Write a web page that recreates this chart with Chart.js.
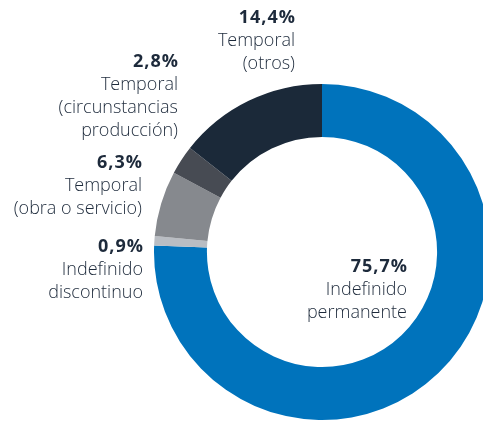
<!DOCTYPE html>
<html>
<head>
<meta charset="utf-8">
<script src="https://cdn.jsdelivr.net/npm/chart.js@4"></script>
<style>
  html, body { margin: 0; padding: 0; background: #fff; }
  #wrap { position: relative; width: 483px; height: 421px; overflow: hidden; }
  #canvas { position: absolute; left: 0; top: 0; }
</style>
</head>
<body>
<div id="wrap"><canvas id="canvas" width="500" height="430"></canvas></div>
<script>
// datos del gráfico
var categorias = ['Indefinido permanente', 'Indefinido discontinuo', 'Temporal (obra o servicio)', 'Temporal (circunstancias producción)', 'Temporal (otros)'];
var valores = [75.7, 0.9, 6.3, 2.8, 14.4];
var porcentajes = ['75,7%', '0,9%', '6,3%', '2,8%', '14,4%'];
// texto de cada etiqueta, línea por línea
var lineas = [
  ['Indefinido', 'permanente'],
  ['Indefinido', 'discontinuo'],
  ['Temporal', '(obra o servicio)'],
  ['Temporal', '(circunstancias', 'producción)'],
  ['Temporal', '(otros)']
];
var colores = ['#0073bc', '#b9bdc3', '#86898e', '#474b53', '#1b2939'];

// posición de las etiquetas (borde derecho, línea base del porcentaje)
var posEtiquetas = [[407, 272], [143, 252], [142, 168], [178, 67], [295, 23]];

var etiquetasPlugin = {
  id: 'etiquetas',
  afterDraw: function (chart) {
    var ctx = chart.ctx;
    ctx.save();
    ctx.textAlign = 'right';
    ctx.textBaseline = 'alphabetic';
    ctx.fillStyle = '#1d2a3b';
    for (var i = 0; i < porcentajes.length; i++) {
      var x = posEtiquetas[i][0], y = posEtiquetas[i][1];
      ctx.font = 'bold 18px "Open Sans"';
      ctx.letterSpacing = '1px';
      ctx.fillText(porcentajes[i], x + 1, y);
      ctx.letterSpacing = '0px';
      ctx.font = '300 18px "Open Sans"';
      for (var j = 0; j < lineas[i].length; j++) {
        ctx.fillText(lineas[i][j], x, y + 23 * (j + 1));
      }
    }
    ctx.restore();
  }
};

var ctx = document.getElementById('canvas').getContext('2d');
var myChart = new Chart(ctx, {
  type: 'doughnut',
  data: {
    labels: categorias,
    datasets: [{
      data: valores,
      backgroundColor: colores,
      borderWidth: 0
    }]
  },
  options: {
    responsive: false,
    animation: false,
    cutout: '68.5%',
    layout: { padding: { left: 154, top: 84, right: 10, bottom: 10 } },
    plugins: {
      legend: { display: false },
      tooltip: { enabled: false }
    }
  },
  plugins: [etiquetasPlugin]
});
</script>
</body>
</html>
